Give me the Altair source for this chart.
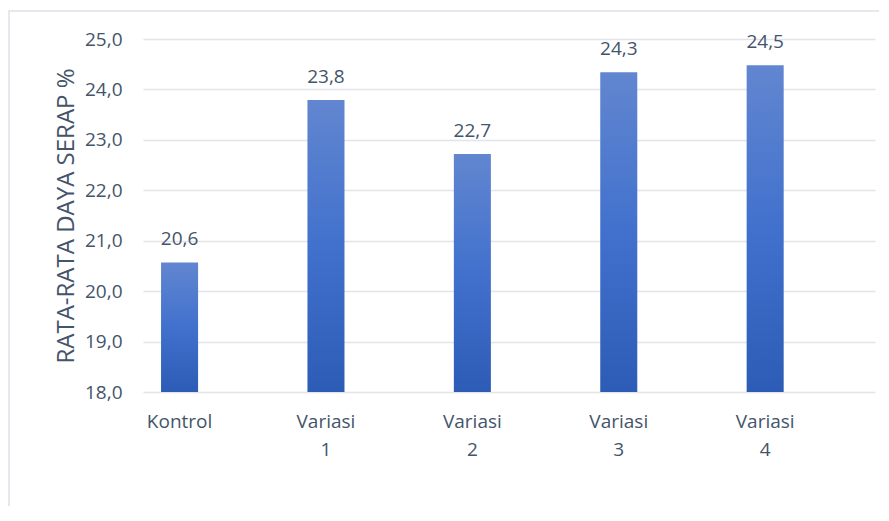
import altair as alt
import pandas as pd

categories = ["Kontrol", "Variasi 1", "Variasi 2", "Variasi 3", "Variasi 4"]
values = [20.57, 23.79, 22.72, 24.34, 24.48]
y_ticks = [18, 19, 20, 21, 22, 23, 24, 25]

df = pd.DataFrame({"kategori": categories, "nilai": values})

TEXT = "#44546A"
FONT = "Open Sans"

x_enc = alt.X(
    "kategori:N",
    sort=None,
    title=None,
    scale=alt.Scale(paddingInner=0.747, paddingOuter=0.3735, align=0.165),
    axis=alt.Axis(
        domain=False, ticks=False, labelAngle=0, labelFont=FONT, labelFontSize=19,
        labelColor=TEXT, labelPadding=20, labelLineHeight=28,
        labelExpr="split(datum.label, ' ')",
    ),
)
y_enc = alt.Y(
    "nilai:Q",
    title="RATA-RATA DAYA SERAP %",
    scale=alt.Scale(domain=[18, 25], nice=False, zero=False),
    axis=alt.Axis(
        values=y_ticks, domain=False, ticks=False, grid=True,
        gridColor="#E1E4E9", gridWidth=1.3,
        labelFont=FONT, labelFontSize=19, labelColor=TEXT, labelPadding=21,
        labelExpr="replace(format(datum.value, '.1f'), '.', ',')",
        titleFont=FONT, titleFontSize=24, titleFontWeight="normal", titleColor=TEXT,
        titlePadding=6,
    ),
)

base = alt.Chart(df)

border = base.mark_rect(fill=None, stroke="#DDE1E6", strokeWidth=1.5).encode(
    x=alt.value(-134), x2=alt.value(800), y=alt.value(-28), y2=alt.value(600)
).transform_filter("datum.kategori == 'Kontrol'")

bars = base.mark_bar(
    clip=True,
    color=alt.Gradient(
        gradient="linear", x1=0, x2=0, y1=0, y2=1,
        stops=[
            alt.GradientStop(color="#6286D0", offset=0),
            alt.GradientStop(color="#4171CD", offset=0.5),
            alt.GradientStop(color="#2D5CB6", offset=1),
        ],
    ),
).encode(x=x_enc, y=y_enc, y2=alt.datum(18))

labels = base.mark_text(
    font=FONT, fontSize=19, color=TEXT, baseline="alphabetic", dy=-17
).transform_calculate(
    lab="replace(format(datum.nilai, '.1f'), '.', ',')"
).encode(x=alt.X("kategori:N", sort=None), y=alt.Y("nilai:Q"), text="lab:N")

chart = alt.layer(border, bars, labels).properties(
    width=732, height=353,
    autosize=alt.AutoSizeParams(type="none"),
    padding={"left": 135, "top": 31, "right": 4, "bottom": 114},
).configure_view(stroke=None)

chart.save("out.html", embed_options={"renderer": "svg", "actions": False})
